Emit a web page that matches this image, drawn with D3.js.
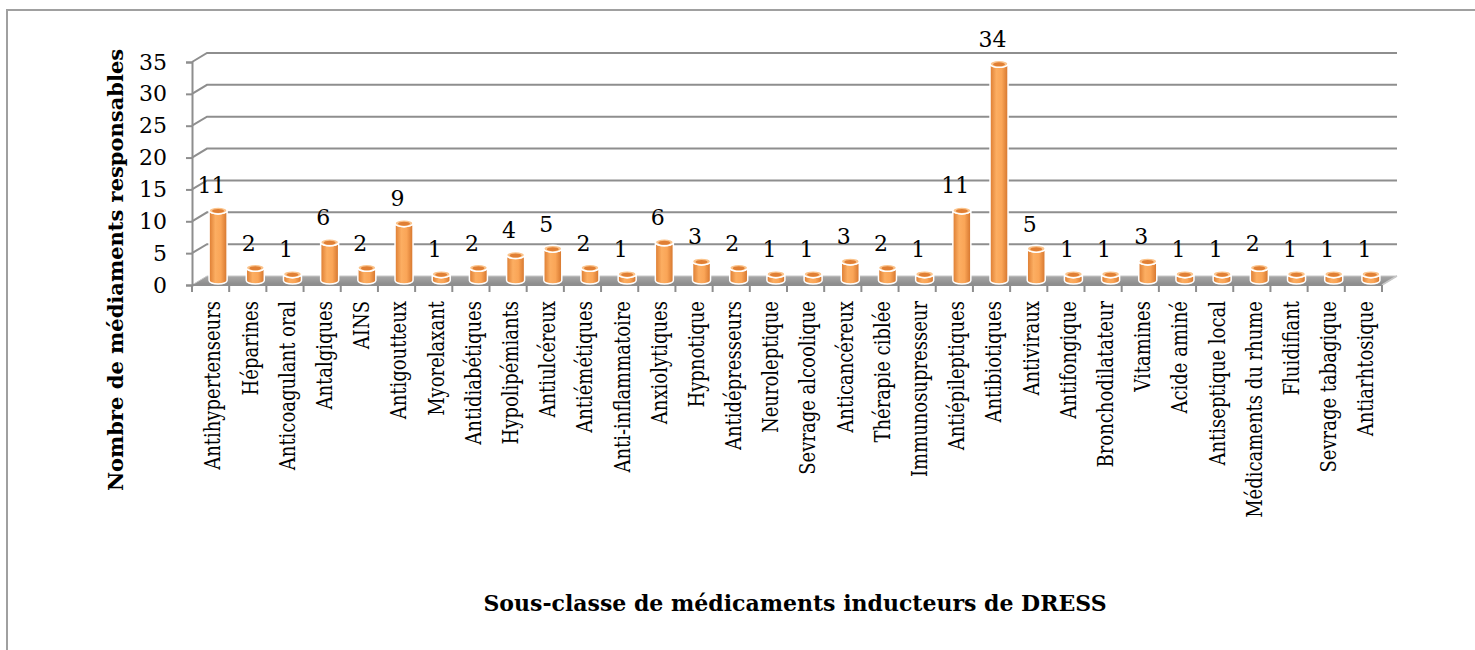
<!DOCTYPE html>
<html>
<head>
<meta charset="utf-8">
<script src="https://cdn.jsdelivr.net/npm/d3@7"></script>
<style>
  body { margin: 0; background: #fff; }
  svg { display: block; font-family: 'DejaVu Serif', 'Liberation Serif', serif; }
</style>
</head>
<body>
<svg id="chart" width="1475" height="650"></svg>
<script>
const categories = [
  'Antihypertenseurs', 'Héparines', 'Anticoagulant oral', 'Antalgiques', 'AINS',
  'Antigoutteux', 'Myorelaxant', 'Antidiabétiques', 'Hypolipémiants', 'Antiulcéreux',
  'Antiémétiques', 'Anti-inflammatoire', 'Anxiolytiques', 'Hypnotique', 'Antidépresseurs',
  'Neuroleptique', 'Sevrage alcoolique', 'Anticancéreux', 'Thérapie ciblée', 'Immunosupresseur',
  'Antiépileptiques', 'Antibiotiques', 'Antiviraux', 'Antifongique', 'Bronchodilatateur',
  'Vitamines', 'Acide aminé', 'Antiseptique local', 'Médicaments du rhume', 'Fluidifiant',
  'Sevrage tabagique', 'Antiarhtosique'
];
const counts = [11, 2, 1, 6, 2, 9, 1, 2, 4, 5, 2, 1, 6, 3, 2, 1, 1, 3, 2, 1, 11, 34, 5, 1, 1, 3, 1, 1, 2, 1, 1, 1];
const yTicks = [0, 5, 10, 15, 20, 25, 30, 35];
const yTitle = 'Nombre de médiaments responsables';
const xTitle = 'Sous-classe de médicaments inducteurs de DRESS';

const svg = d3.select('#chart');
const plot = { left: 192, right: 1382, top: 62, bottom: 285 };
const depth = { dx: 15, dy: -9 };

const x = d3.scaleBand()
  .domain(categories)
  .range([plot.left, plot.right]);

const y = d3.scaleLinear()
  .domain([0, 35])
  .range([plot.bottom, plot.top]);

// outer frame (runs off the right and bottom edge)
svg.append('rect')
  .attr('x', 7).attr('y', 10)
  .attr('width', 1500).attr('height', 700)
  .attr('fill', 'none')
  .attr('stroke', '#a0a0a0')
  .attr('stroke-width', 2);

const defs = svg.append('defs');
const bodyGrad = defs.append('linearGradient').attr('id', 'cyl').attr('x1', 0).attr('x2', 1).attr('y1', 0).attr('y2', 0);
bodyGrad.append('stop').attr('offset', '0%').attr('stop-color', '#dc7b30');
bodyGrad.append('stop').attr('offset', '35%').attr('stop-color', '#fcae62');
bodyGrad.append('stop').attr('offset', '65%').attr('stop-color', '#faa557');
bodyGrad.append('stop').attr('offset', '100%').attr('stop-color', '#d4742c');
const floorGrad = defs.append('linearGradient').attr('id', 'floor').attr('x1', 0).attr('x2', 0).attr('y1', 0).attr('y2', 1);
floorGrad.append('stop').attr('offset', '0%').attr('stop-color', '#a8a8a8');
floorGrad.append('stop').attr('offset', '100%').attr('stop-color', '#8a8a8a');

// floor
svg.append('path')
  .attr('d', `M${plot.left},${y(0)} L${plot.right},${y(0)} L${plot.right + depth.dx},${y(0) + depth.dy} L${plot.left + depth.dx},${y(0) + depth.dy} Z`)
  .attr('fill', 'url(#floor)')
  .attr('stroke', '#c8c8c8')
  .attr('stroke-width', 1);

// gridlines on back wall + side wall diagonals
const grid = svg.append('g').attr('stroke', '#8e8e8e').attr('stroke-width', 2).attr('fill', 'none');
yTicks.filter(t => t > 0).forEach(t => {
  grid.append('path')
    .attr('d', `M${plot.left},${y(t)} L${plot.left + depth.dx},${y(t) + depth.dy} L${plot.right + depth.dx},${y(t) + depth.dy}`);
});

// left axis
const yAxis = svg.append('g')
  .attr('transform', `translate(${plot.left},0)`)
  .call(d3.axisLeft(y).tickValues(yTicks).tickSize(6).tickPadding(19));
yAxis.select('.domain').attr('stroke', '#8e8e8e').attr('stroke-width', 2);
yAxis.selectAll('.tick line').attr('stroke', '#8e8e8e').attr('stroke-width', 2);
yAxis.selectAll('.tick text')
  .attr('font-family', "'DejaVu Serif', serif")
  .attr('font-size', 22)
  .attr('fill', '#000');

// bottom axis (category boundaries)
const xAxis = svg.append('g')
  .attr('transform', `translate(0,${y(0)})`);
xAxis.append('line')
  .attr('x1', plot.left).attr('x2', plot.right)
  .attr('stroke', '#8e8e8e').attr('stroke-width', 2);
xAxis.append('line')
  .attr('x1', plot.right).attr('y1', 0)
  .attr('x2', plot.right + depth.dx).attr('y2', depth.dy)
  .attr('stroke', '#c8c8c8').attr('stroke-width', 1.5);
xAxis.selectAll('line.tk')
  .data(categories.concat(['__end']))
  .join('line')
  .attr('class', 'tk')
  .attr('x1', (d, i) => i < categories.length ? x(d) : plot.right)
  .attr('x2', (d, i) => i < categories.length ? x(d) : plot.right)
  .attr('y1', 0).attr('y2', 7)
  .attr('stroke', '#8e8e8e').attr('stroke-width', 2);

// category labels
svg.append('g')
  .selectAll('text')
  .data(categories)
  .join('text')
  .attr('transform', d => `translate(${x(d) + x.bandwidth() / 2 + 2},${y(0) + 16}) rotate(-90) scale(1,1.25)`)
  .attr('text-anchor', 'end')
  .attr('dy', '0.35em')
  .attr('font-size', 18)
  .attr('fill', '#000')
  .text(d => d);

// cylinders
const barW = 18;
const ry = 3.5;
const bars = svg.append('g')
  .selectAll('g')
  .data(categories.map((c, i) => ({ c, v: counts[i] })))
  .join('g')
  .attr('transform', d => `translate(${x(d.c) + x.bandwidth() / 2 + depth.dx / 2},${depth.dy / 2})`);

bars.append('path')
  .attr('d', d => {
    const top = y(d.v), base = y(0), r = barW / 2;
    return `M${-r},${top} L${-r},${base} A${r},${ry} 0 0 0 ${r},${base} L${r},${top} A${r},${ry} 0 0 1 ${-r},${top} Z`;
  })
  .attr('fill', 'url(#cyl)')
  .attr('stroke', '#fff')
  .attr('stroke-width', 1.5);

bars.append('ellipse')
  .attr('cx', 0)
  .attr('cy', d => y(d.v))
  .attr('rx', barW / 2)
  .attr('ry', ry)
  .attr('fill', '#fbc48c')
  .attr('stroke', '#fff')
  .attr('stroke-width', 1.5);

bars.append('ellipse')
  .attr('cx', 0)
  .attr('cy', d => y(d.v) + 0.5)
  .attr('rx', barW / 2 - 3)
  .attr('ry', ry - 1.5)
  .attr('fill', '#e07f34');

bars.append('text')
  .attr('x', -depth.dx / 2 + 1)
  .attr('y', d => y(d.v) - 17)
  .attr('text-anchor', 'middle')
  .attr('font-size', 22)
  .attr('fill', '#000')
  .text(d => d.v);

// axis titles
svg.append('text')
  .attr('transform', 'translate(116,270) rotate(-90)')
  .attr('text-anchor', 'middle')
  .attr('dy', '0.35em')
  .attr('font-size', 21)
  .attr('font-weight', 'bold')
  .text(yTitle);

svg.append('text')
  .attr('x', 795)
  .attr('y', 603)
  .attr('text-anchor', 'middle')
  .attr('dy', '0.35em')
  .attr('font-size', 22)
  .attr('font-weight', 'bold')
  .text(xTitle);
</script>
</body>
</html>
